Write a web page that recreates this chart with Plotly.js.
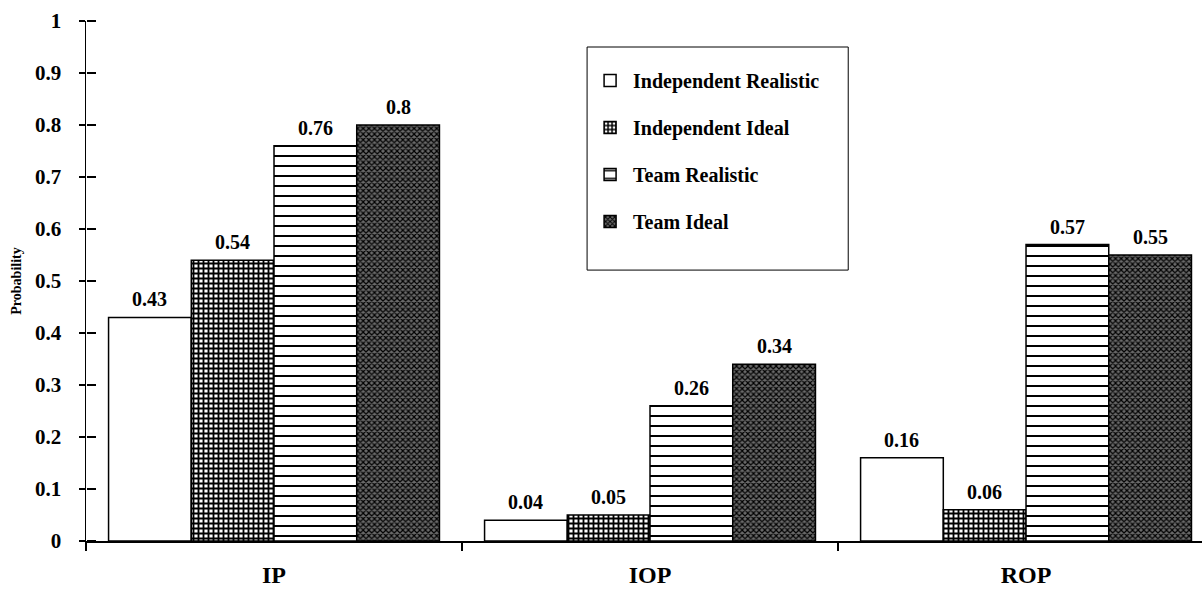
<!DOCTYPE html>
<html>
<head>
<meta charset="utf-8">
<script src="https://cdn.plot.ly/plotly-3.0.1.min.js"></script>
<style>html,body{margin:0;padding:0;background:#fff;}#chart{width:1202px;height:592px;}</style>
</head>
<body>
<div id="chart"></div>
<script>
const categories = ["IP", "IOP", "ROP"];
const seriesNames = ["Independent Realistic", "Independent Ideal", "Team Realistic", "Team Ideal"];
const independentRealistic = [0.43, 0.04, 0.16];
const independentIdeal = [0.54, 0.05, 0.06];
const teamRealistic = [0.76, 0.26, 0.57];
const teamIdeal = [0.8, 0.34, 0.55];
const yTickVals = [0, 0.1, 0.2, 0.3, 0.4, 0.5, 0.6, 0.7, 0.8, 0.9, 1];
const yTickText = ["0", "0.1", "0.2", "0.3", "0.4", "0.5", "0.6", "0.7", "0.8", "0.9", "1"];

const seriesValues = [independentRealistic, independentIdeal, teamRealistic, teamIdeal];
const patterns = [
  {shape: "", fgcolor: "#000", bgcolor: "#fff"},
  {shape: "+", fgcolor: "#000", bgcolor: "#fff", size: 5, solidity: 0.6},
  {shape: "-", fgcolor: "#000", bgcolor: "#fff", size: 10, solidity: 0.2},
  {shape: "x", fgcolor: "#000", bgcolor: "#6a6a6a", size: 4, solidity: 0.5}
];
const FONT = "Liberation Serif, Times New Roman, serif";
const bargap = 0.12;

const traces = seriesValues.map((vals, j) => ({
  type: "bar",
  name: seriesNames[j],
  x: categories,
  y: vals,
  legendgroup: "g" + j,
  marker: {color: "#fff", line: {color: "#000", width: 1.5}, pattern: patterns[j]},
  hoverinfo: "skip"
}));
// overlay axis for the part of the ticks that crosses into the plot
traces.push({type: "scatter", mode: "markers", x: categories, y: [0, 0, 0], yaxis: "y2",
  marker: {opacity: 0, size: 1}, showlegend: false, hoverinfo: "skip"});

const w = (1 - bargap) / seriesValues.length;
const annotations = [];
seriesValues.forEach((vals, j) => {
  vals.forEach((v, i) => {
    annotations.push({
      x: i + (j - (seriesValues.length - 1) / 2) * w,
      y: v, xref: "x", yref: "y",
      text: String(v), showarrow: false,
      yanchor: "bottom", yshift: 5,
      font: {family: FONT, size: 20, color: "#000", weight: "bold"}
    });
  });
});

const layout = {
  width: 1202, height: 592,
  margin: {l: 86, r: 0, t: 21, b: 51},
  paper_bgcolor: "#fff", plot_bgcolor: "#fff",
  barmode: "group", bargap: bargap, bargroupgap: 0,
  font: {family: FONT, color: "#000"},
  xaxis: {
    type: "category", range: [-0.5, 2.468],
    tickson: "boundaries", ticks: "outside", ticklen: 8, tickwidth: 1.2, tickcolor: "#000",
    showline: true, linecolor: "#000", linewidth: 1.5,
    showgrid: false, zeroline: false,
    tickfont: {family: FONT, size: 24, color: "#000", weight: "bold"},
    ticklabelstandoff: 12
  },
  yaxis: {
    range: [0, 1], tickvals: yTickVals, ticktext: yTickText,
    ticks: "outside", ticklen: 6, tickwidth: 1.2, tickcolor: "#000",
    showline: true, linecolor: "#000", linewidth: 1.5,
    showgrid: false, zeroline: false,
    tickfont: {family: FONT, size: 21, color: "#000", weight: "bold"},
    ticklabelstandoff: 13,
    title: {text: "Probability", font: {family: FONT, size: 14, color: "#000", weight: "bold"}, standoff: 10}
  },
  yaxis2: {
    overlaying: "y", anchor: "free", position: 0, side: "right", range: [0, 1], tickvals: yTickVals,
    ticks: "outside", ticklen: 9, tickwidth: 1.2, tickcolor: "#000",
    showticklabels: false, showgrid: false, zeroline: false, showline: false
  },
  showlegend: true,
  legend: {
    x: 0.449, y: 0.923, xanchor: "left", yanchor: "top",
    bgcolor: "rgba(0,0,0,0)", borderwidth: 0,
    traceorder: "grouped", tracegroupgap: 18,
    font: {family: FONT, size: 20, color: "#000", weight: "bold"},
    itemwidth: 36
  },
  shapes: [{
    type: "rect", xref: "paper", yref: "paper",
    x0: 0.449, x1: 0.683, y0: 0.521, y1: 0.95,
    line: {color: "#000", width: 1}, fillcolor: "#fff", layer: "below"
  }],
  annotations: annotations
};

Plotly.newPlot("chart", traces, layout, {displayModeBar: false, staticPlot: true});
</script>
</body>
</html>
